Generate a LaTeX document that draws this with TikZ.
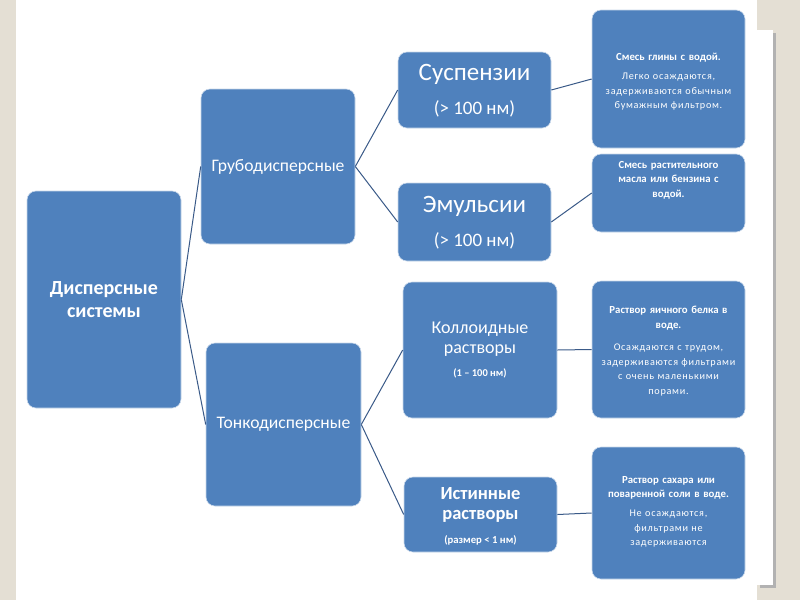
\documentclass[tikz,border=0pt]{standalone}
\usepackage{fontspec}
\setmainfont{Carlito}
\newfontfamily\spaced[LetterSpace=7]{Carlito}
\definecolor{boxblue}{HTML}{4F81BD}
\definecolor{linec}{HTML}{3A5A88}
\definecolor{beige}{HTML}{E4DFD4}
\begin{document}
\begin{tikzpicture}[x=1pt,y=-1pt,
  bx/.style={draw=white!70!boxblue, line width=0.6pt, fill=boxblue, rounded corners=9pt, inner sep=0pt},
  lbl/.style={text=white, align=center, inner sep=0pt},
  con/.style={draw=linec, line width=1pt},
  small/.style={lbl, text width=152pt, font=\fontsize{10.2}{14.5}\selectfont},
  smallb/.style={small, font=\fontsize{10.8}{14.5}\selectfont\bfseries}]
% background
\fill[beige] (0,0) rectangle (800,600);
\useasboundingbox (0,0) rectangle (800,600);
\fill[black!30] (760,33) rectangle (776,588);
\fill[white] (757,30) rectangle (773,585);
\fill[white] (16,0) rectangle (757,600);

% boxes
\node[bx, minimum width=154pt, minimum height=217pt] (d) at (104,299.5) {};
\node[bx, minimum width=154pt, minimum height=155pt] (g) at (278,166.5) {};
\node[bx, minimum width=155pt, minimum height=163pt] (t) at (283.5,424.5) {};
\node[bx, minimum width=153pt, minimum height=76pt] (s) at (474.5,90) {};
\node[bx, minimum width=153pt, minimum height=78pt] (e) at (474.5,222) {};
\node[bx, minimum width=154pt, minimum height=136pt] (k) at (480,350) {};
\node[bx, minimum width=153pt, minimum height=75pt] (i) at (480.5,514.5) {};
\node[bx, minimum width=153pt, minimum height=138pt] (r1) at (668.5,79) {};
\node[bx, minimum width=153pt, minimum height=78pt] (r2) at (668.5,193) {};
\node[bx, minimum width=153pt, minimum height=137pt] (r3) at (668.5,349.5) {};
\node[bx, minimum width=153pt, minimum height=132pt] (r4) at (668.5,513) {};

% connectors
\draw[con] (d.east) -- (g.west);
\draw[con] (d.east) -- (t.west);
\draw[con] (g.east) -- (s.west);
\draw[con] (g.east) -- (e.west);
\draw[con] (t.east) -- (k.west);
\draw[con] (t.east) -- (i.west);
\draw[con] (s.east) -- (r1.west);
\draw[con] (e.east) -- (r2.west);
\draw[con] (k.east) -- (r3.west);
\draw[con] (i.east) -- (r4.west);

% labels
\node[lbl, font=\fontsize{20}{23}\selectfont\bfseries] (dl) at (104,300) {Дисперсные\\системы};
\node[lbl, font=\fontsize{17.6}{19}\selectfont] (gl) at (278,167) {Грубодисперсные};
\node[lbl, font=\fontsize{17.6}{19}\selectfont] (tl) at (283.5,424) {Тонкодисперсные};
\node[lbl, font=\fontsize{25}{28}\selectfont] (sl1) at (474.5,74) {Суспензии};
\node[lbl, font=\fontsize{19}{22}\selectfont] (sl2) at (474.5,109) {(> 100 нм)};
\node[lbl, font=\fontsize{25}{28}\selectfont] (el1) at (474.5,206) {Эмульсии};
\node[lbl, font=\fontsize{19}{22}\selectfont] (el2) at (474.5,241) {(> 100 нм)};
\node[lbl, font=\fontsize{18}{20.5}\selectfont] (kl1) at (480,339) {Коллоидные\\растворы};
\node[lbl, font=\fontsize{10.5}{12}\selectfont\bfseries] (kl2) at (480,373) {(1 – 100 нм)};
\node[lbl, font=\fontsize{18.5}{20.5}\selectfont\bfseries] (il1) at (480.5,505) {Истинные\\растворы};
\node[lbl, font=\fontsize{10.7}{12}\selectfont\bfseries] (il2) at (480.5,540) {(размер < 1 нм)};

\node[smallb, anchor=north] (r1a) at (668.5,53) {Смесь глины с водой.};
\node[small, anchor=north] (r1b) at (668.5,73) {\spaced Легко осаждаются,\\задерживаются обычным\\бумажным фильтром.};
\node[smallb, anchor=north] (r2a) at (668.5,161) {Смесь растительного\\масла или бензина с\\водой.};
\node[smallb, anchor=north] (r3a) at (668.5,306) {Раствор яичного белка в\\воде.};
\node[small, anchor=north] (r3b) at (668.5,344) {\spaced Осаждаются с трудом,\\задерживаются фильтрами\\с очень маленькими\\порами.};
\node[smallb, anchor=north] (r4a) at (668.5,476) {Раствор сахара или\\поваренной соли в воде.};
\node[small, anchor=north] (r4b) at (668.5,510) {\spaced Не осаждаются,\\фильтрами не\\задерживаются};
\end{tikzpicture}
\end{document}
